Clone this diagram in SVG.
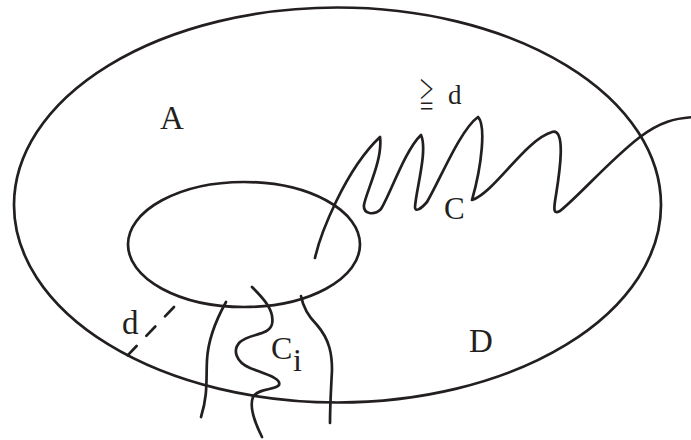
<svg xmlns="http://www.w3.org/2000/svg" width="691" height="440" viewBox="0 0 691 440">
<style>
.ln{fill:none;stroke:#231f20;stroke-width:2.7;stroke-linecap:round;stroke-linejoin:round}
.lb{font-family:"Liberation Serif","Times New Roman",serif;fill:#231f20}
</style>
<rect width="691" height="440" fill="#fff"/>
<g id="region-D">
<ellipse class="ln" cx="337.5" cy="205" rx="323.5" ry="197.5"/>
</g>
<g id="region-A">
<ellipse class="ln" cx="244" cy="244.5" rx="116" ry="62.5"/>
</g>
<g id="curves">
<path id="curve-C" class="ln" d="M315,258 C320,235 345,170 380,137 C383,160 366,192 364,205 C363,214 374,216 381,209 C390,195 405,150 421,135 C428,150 416,190 415,207 C415,212 420,210 427,202 C440,180 460,130 478,117 C486,125 482,165 472,200 C495,192 525,140 552,132 C566,128 560,170 556,195 C553,212 554,214 560,211 C580,195 610,160 640,137 C660,122 675,118 695,117"/>
<path id="curve-Ci-1" class="ln" d="M226,302 C216,320 208,340 207,360 C206,380 208,395 201,417"/>
<path id="curve-Ci-2" class="ln" d="M252,287 C262,297 275,310 272,324 C269,336 250,333 240,342 C232,350 236,362 250,368 C262,373 282,378 279,385 C276,390 258,388 253,397 C249,407 256,425 262,437"/>
<path id="curve-Ci-3" class="ln" d="M301,296 C303,307 308,316 317,325 C330,340 332,355 332,370 C331,390 330,405 330,423"/>
<path id="distance-d" class="ln" d="M174,307 L127,356" stroke-dasharray="13 14" stroke-linecap="butt"/>
</g>
<g id="labels">
<text class="lb" x="160" y="129" font-size="33">A</text>
<text class="lb" x="469" y="352" font-size="33">D</text>
<text class="lb" x="444" y="219" font-size="31">C</text>
<text class="lb" x="271" y="359" font-size="32">C</text>
<text class="lb" x="293" y="371" font-size="32">i</text>
<text class="lb" x="122" y="334" font-size="33">d</text>
<text class="lb" x="448" y="104" font-size="27">d</text>
<text font-family="'Noto Sans CJK JP',sans-serif" font-weight="300" fill="#231f20" font-size="34" transform="translate(419,108) scale(0.45,1)">≧</text>
</g>
</svg>
